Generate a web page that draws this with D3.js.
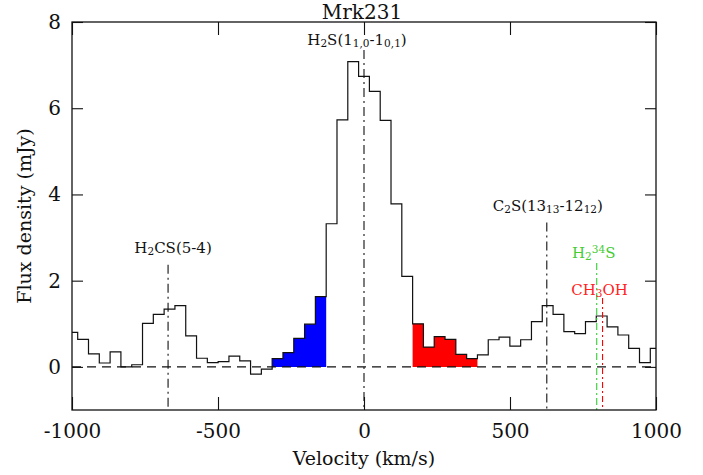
<!DOCTYPE html>
<html>
<head>
<script src="https://cdnjs.cloudflare.com/ajax/libs/d3/7.8.5/d3.min.js"></script>
<style>
  body { margin: 0; background: #fff; }
  svg text { font-family: "DejaVu Serif", serif; fill: #111; }
</style>
</head>
<body>
<div id="vis"></div>
<script>
// channel centres (km/s) and flux density (mJy)
const velocity = [-999, -962, -925, -888, -851, -814, -777, -740, -703, -666, -629,
  -592, -555, -518, -481, -444, -407, -370, -333, -296, -259, -222, -185, -148,
  -111, -74, -37, 0, 37, 74, 111, 148, 185, 222, 259, 296, 333, 370, 407, 444,
  481, 518, 555, 592, 629, 666, 703, 740, 777, 814, 851, 888, 925, 962, 999];
const flux = [0.80, 0.64, 0.30, 0.09, 0.35, 0.00, 0.05, 1.01, 1.22, 1.34, 1.42,
  0.72, 0.20, 0.10, 0.12, 0.25, 0.14, -0.17, -0.05, 0.19, 0.33, 0.66, 0.99, 1.63,
  3.32, 5.73, 7.08, 6.74, 6.39, 5.72, 3.78, 2.10, 1.00, 0.46, 0.70, 0.64, 0.29,
  0.19, 0.28, 0.63, 0.69, 0.48, 0.63, 1.05, 1.42, 1.22, 0.82, 0.77, 1.05, 1.18,
  0.93, 0.74, 0.43, 0.10, 0.43];

// wings shaded (channel centres, first and last)
const blueWing = [-296, -148];
const redWing = [185, 370];

// line markers
const lineNames = ["H2CS(5-4)", "H2S(1_10-1_01)", "C2S(13_13-12_12)", "H2 34S", "CH3OH"];
const lineVelocity = [-671, 0, 626, 797, 817];
const lineTop = [2.37, 7.35, 3.35, 2.41, 1.60];
const lineParts = [
  [["H"], ["2", "sub"], ["CS(5-4)"]],
  [["H"], ["2", "sub"], ["S(1"], ["1,0", "sub"], ["-1"], ["0,1", "sub"], [")"]],
  [["C"], ["2", "sub"], ["S(13"], ["13", "sub"], ["-12"], ["12", "sub"], [")"]],
  [["H"], ["2", "sub"], ["34", "sup"], ["S"]],
  [["CH"], ["3", "sub"], ["OH"]]
];

const xMajorTicks = [-1000, -500, 0, 500, 1000];
const yMajorTicks = [0, 2, 4, 6, 8];
const title = "Mrk231";
const xTitle = "Velocity (km/s)";
const yTitle = "Flux density (mJy)";

const W = 703, H = 475;
const margin = {left: 72, right: 47, top: 22, bottom: 65};

const svg = d3.select("#vis").append("svg")
    .attr("width", W).attr("height", H)
    .attr("viewBox", [0, 0, W, H]);

const x = d3.scaleLinear().domain([-1000, 1000]).range([margin.left, W - margin.right]);
const y = d3.scaleLinear().domain([-1, 8]).range([H - margin.bottom, margin.top]);

const half = (velocity[1] - velocity[0]) / 2;
function stepPoints(idx) {
    var pts = [];
    idx.forEach(i => {
        pts.push([Math.max(velocity[i] - half, -1000), flux[i]]);
        pts.push([Math.min(velocity[i] + half, 1000), flux[i]]);
    });
    return pts;
}
const allIdx = d3.range(velocity.length);

const plot = svg.append("g");
plot.append("clipPath").attr("id", "clip")
    .append("rect")
    .attr("x", x(-1000)).attr("y", y(8))
    .attr("width", x(1000) - x(-1000)).attr("height", y(-1) - y(8));

// shaded wings
const area = d3.area().x(d => x(d[0])).y0(y(0)).y1(d => y(d[1]));
[[blueWing, "#0000ff"], [redWing, "#ff0000"]].forEach(([wing, col]) => {
    var idx = allIdx.filter(i => velocity[i] >= wing[0] && velocity[i] <= wing[1]);
    plot.append("path")
        .attr("d", area(stepPoints(idx)))
        .attr("fill", col);
});

// zero level
plot.append("line")
    .attr("x1", x(-1000)).attr("x2", x(1000))
    .attr("y1", y(0)).attr("y2", y(0))
    .attr("stroke", "#111").attr("stroke-width", 1.1)
    .attr("stroke-dasharray", "9,6");

// spectrum
plot.append("path")
    .attr("clip-path", "url(#clip)")
    .attr("d", d3.line().x(d => x(d[0])).y(d => y(d[1]))(stepPoints(allIdx)))
    .attr("fill", "none")
    .attr("stroke", "#111")
    .attr("stroke-width", 1.2);

// line markers and labels
const lineColor = ["#111", "#111", "#111", "#33cc33", "#ff0000"];
const textColor = ["#111", "#111", "#111", "#44cc33", "#ff2222"];
const lineDash = ["9,4,2,4", "9,4,2,4", "9,4,2,4", "7,3,2,3", "6,3,2,3"];
const labelOffset = [[5, -12], [-7, -5], [1, -11], [-3, -5], [-3, -3]];

lineVelocity.forEach((v, i) => {
    plot.append("line")
        .attr("x1", x(v)).attr("x2", x(v))
        .attr("y1", y(lineTop[i])).attr("y2", y(-1))
        .attr("stroke", lineColor[i]).attr("stroke-width", 1.1)
        .attr("stroke-dasharray", lineDash[i]);
    var t = plot.append("text")
        .attr("x", x(v) + labelOffset[i][0])
        .attr("y", y(lineTop[i]) + labelOffset[i][1])
        .attr("text-anchor", "middle")
        .attr("font-size", 15)
        .style("fill", textColor[i]);
    var shift = 0;
    lineParts[i].forEach(p => {
        var want = p[1] == "sub" ? 2 : (p[1] == "sup" ? -5 : 0);
        t.append("tspan")
            .attr("dy", want - shift)
            .attr("font-size", p[1] ? 10.5 : 15)
            .text(p[0]);
        shift = want;
    });
});

// axes, ticks pointing inward on all four sides
const fmt = d => String(d);
const gx = svg.append("g").attr("transform", `translate(0,${y(-1)})`);
gx.call(d3.axisBottom(x).tickValues(x.ticks(20)).tickSize(-6).tickFormat(""));
gx.call(d3.axisBottom(x).tickValues(xMajorTicks).tickSize(-13).tickPadding(14).tickFormat(fmt));
const gxt = svg.append("g").attr("transform", `translate(0,${y(8)})`);
gxt.call(d3.axisTop(x).tickValues(x.ticks(20)).tickSize(-6).tickFormat(""));
gxt.call(d3.axisTop(x).tickValues(xMajorTicks).tickSize(-13).tickFormat(""));

const gy = svg.append("g").attr("transform", `translate(${x(-1000)},0)`);
gy.call(d3.axisLeft(y).tickValues(y.ticks(18)).tickSize(-6).tickFormat(""));
gy.call(d3.axisLeft(y).tickValues(yMajorTicks).tickSize(-11).tickPadding(11).tickFormat(fmt));
const gyr = svg.append("g").attr("transform", `translate(${x(1000)},0)`);
gyr.call(d3.axisRight(y).tickValues(y.ticks(18)).tickSize(-6).tickFormat(""));
gyr.call(d3.axisRight(y).tickValues(yMajorTicks).tickSize(-11).tickFormat(""));

svg.selectAll(".domain").remove();
svg.selectAll(".tick line").attr("stroke", "#111").attr("stroke-width", 1.1);
svg.selectAll(".tick text").attr("font-size", 20).attr("font-family", "DejaVu Serif");

svg.append("rect")
    .attr("x", x(-1000)).attr("y", y(8))
    .attr("width", x(1000) - x(-1000)).attr("height", y(-1) - y(8))
    .attr("fill", "none").attr("stroke", "#111").attr("stroke-width", 1.3);

svg.append("text")
    .attr("x", 362).attr("y", 19)
    .attr("text-anchor", "middle").attr("font-size", 20)
    .text(title);
svg.append("text")
    .attr("x", x(0)).attr("y", 465)
    .attr("text-anchor", "middle").attr("font-size", 19)
    .text(xTitle);
svg.append("text")
    .attr("transform", `translate(31,${(y(8) + y(-1)) / 2}) rotate(-90)`)
    .attr("text-anchor", "middle").attr("font-size", 19)
    .text(yTitle);
</script>
</body>
</html>
